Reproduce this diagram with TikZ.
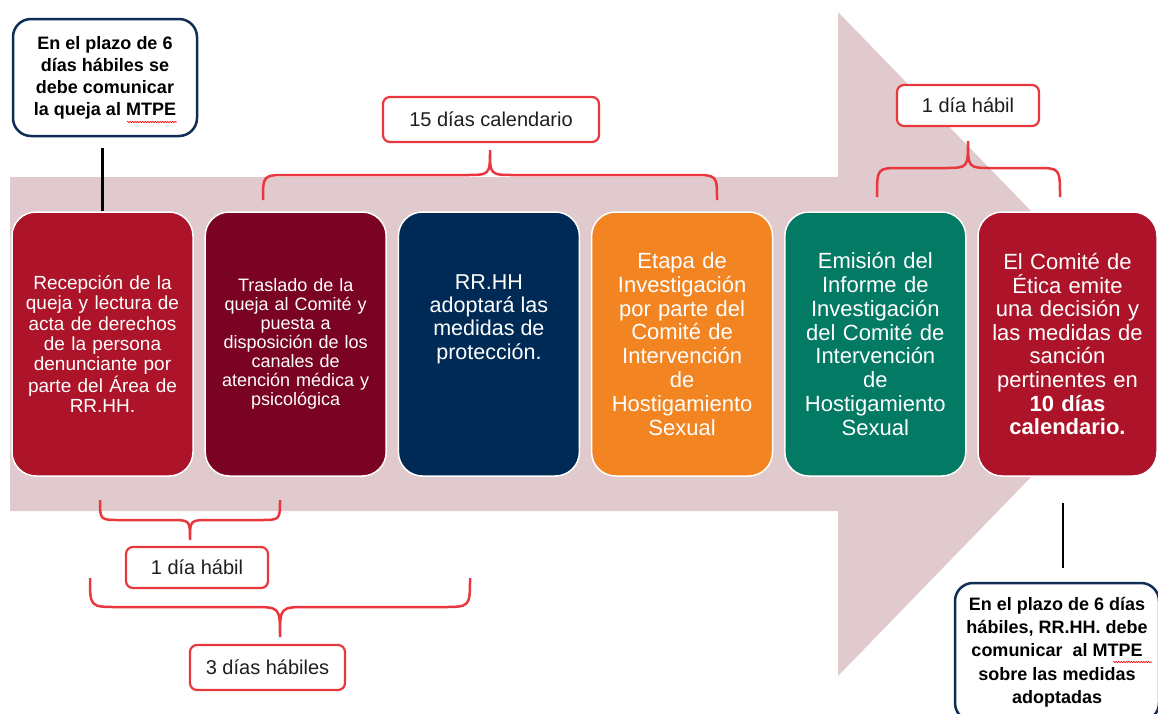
\documentclass[tikz,border=0pt]{standalone}
\usepackage{fontspec}
\setmainfont{Liberation Sans}
\usetikzlibrary{decorations.pathmorphing}
\definecolor{arrowpink}{RGB}{224,202,205}
\definecolor{crimsonb}{RGB}{173,20,41}
\definecolor{maroonb}{RGB}{122,2,35}
\definecolor{navyb}{RGB}{0,42,86}
\definecolor{orangeb}{RGB}{242,132,34}
\definecolor{tealb}{RGB}{3,122,100}
\definecolor{bracered}{RGB}{232,56,61}
\definecolor{calloutnavy}{RGB}{16,45,85}
\definecolor{txtgray}{RGB}{30,30,30}
\newcommand\curlybrace[7]{%
  \draw[bracestyle] (#1,#4) .. controls (#1,#5) .. ({#1+#7},#5) -- ({#3-#7},#5)
    .. controls (#3,#5) .. (#3,#6) .. controls (#3,#5) .. ({#3+#7},#5)
    -- ({#2-#7},#5) .. controls (#2,#5) .. (#2,#4);}
\begin{document}
\begin{tikzpicture}[x=1pt,y=-1pt,
  stepbox/.style={rounded corners=24pt, draw=white, line width=1.5pt,
    minimum width=181pt, minimum height=264pt, text=white, align=center,
    text width=172pt, inner sep=0pt},
  callout/.style={draw=calloutnavy, line width=2.5pt, rounded corners=18pt,
    fill=white, align=center, text=black,
    font=\bfseries\fontsize{18}{22}\selectfont, inner sep=0pt},
  lbl/.style={draw=bracered, line width=2.2pt, rounded corners=7pt, fill=white,
    text=txtgray, font=\fontsize{20}{24}\selectfont, inner sep=0pt},
  bracestyle/.style={draw=bracered, line width=2.5pt},
  stem/.style={draw=black, line width=2.5pt},
  squig/.style={draw=red, line width=0.6pt, decorate,
    decoration={snake, amplitude=0.7pt, segment length=2.5pt}}
]
\useasboundingbox (0,0) rectangle (1158,713);
\clip (0,0) rectangle (1158,713);

% big arrow
\fill[arrowpink] (10,177) -- (838,177) -- (838,12) -- (1160,344) -- (838,676)
  -- (838,511) -- (10,511) -- cycle;

% step boxes
\node[stepbox, fill=crimsonb, font=\fontsize{19}{20.3}\selectfont] (b1) at (102.5,344)
  {Recepción de la\\queja y lectura de\\acta de derechos\\de la persona\\denunciante por\\parte del Área de\\RR.HH.};
\node[stepbox, fill=maroonb, font=\fontsize{18}{19}\selectfont] (b2) at (295.7,344)
  {Traslado de la\\queja al Comité y\\puesta a\\disposición de los\\canales de\\atención médica y\\psicológica};
\node[stepbox, fill=navyb] (b3) at (488.9,344) {};
\node[text=white, align=center, font=\fontsize{21.5}{23.3}\selectfont] (b3t) at (488.9,319)
  {RR.HH\\adoptará las\\medidas de\\protección.};
\node[stepbox, fill=orangeb, font=\fontsize{22}{23.8}\selectfont] (b4) at (682.1,344)
  {Etapa de\\Investigación\\por parte del\\Comité de\\Intervención\\de\\Hostigamiento\\Sexual};
\node[stepbox, fill=tealb, font=\fontsize{22}{23.8}\selectfont] (b5) at (875.3,344)
  {Emisión del\\Informe de\\Investigación\\del Comité de\\Intervención\\de\\Hostigamiento\\Sexual};
\node[stepbox, fill=crimsonb, minimum width=179pt, font=\fontsize{22}{23.6}\selectfont] (b6) at (1067.5,344)
  {El Comité de\\Ética emite\\una decisión y\\las medidas de\\sanción\\pertinentes en\\\textbf{10 días}\\\textbf{calendario.}};

% callouts
\node[callout, minimum width=184pt, minimum height=117pt] (c1) at (105,77.5)
  {En el plazo de 6\\días hábiles se\\debe comunicar\\la queja al MTPE};
\coordinate (c1stem) at (102.5,148);
\draw[stem] (c1stem) -- (b1.north);

\node[callout, minimum width=204pt, minimum height=138pt, font=\bfseries\fontsize{18}{23.3}\selectfont] (c2) at (1057,652)
  {En el plazo de 6 días\\hábiles, RR.HH. debe\\comunicar\ \ al MTPE\\sobre las medidas\\adoptadas};
\coordinate (c2top) at (1063,503);
\coordinate (c2bot) at (1063,568);
\draw[stem] (c2top) -- (c2bot);

% spell-check squiggles
\draw[squig] (127,122) -- (177,122);
\draw[squig] (1113,662) -- (1152,662);

% labels
\node[lbl, minimum width=216pt, minimum height=45pt] (l15) at (491,119.5) {15 días calendario};
\node[lbl, minimum width=142pt, minimum height=41pt] (l1top) at (968,105.5) {1 día hábil};
\node[lbl, minimum width=142pt, minimum height=41pt] (l1bot) at (197,567.5) {1 día hábil};
\node[lbl, minimum width=155pt, minimum height=45pt] (l3) at (267.5,667.5) {3 días hábiles};

% braces
\curlybrace{263}{717}{490}{200}{175}{150}{25}
\curlybrace{877}{1060}{968}{197}{168}{141}{24}
\curlybrace{100}{280}{190}{500}{520}{540}{20}
\curlybrace{90}{470}{280}{578}{607}{637}{28}
\end{tikzpicture}
\end{document}
